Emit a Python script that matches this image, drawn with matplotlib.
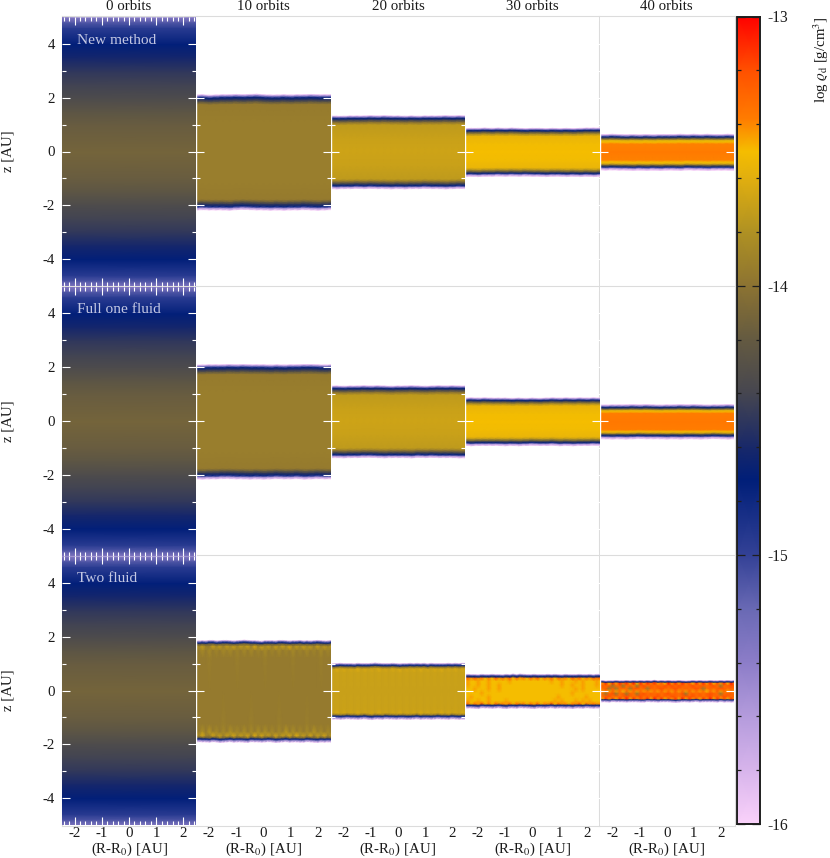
import matplotlib
matplotlib.use("Agg")
import matplotlib.pyplot as plt
from matplotlib.colors import LinearSegmentedColormap
from matplotlib.lines import Line2D
from matplotlib.ticker import FixedLocator
import numpy as np

plt.rcParams['font.family'] = ['Liberation Serif', 'DejaVu Serif']
plt.rcParams['mathtext.fontset'] = 'stix'

W, H = 830, 858
times = ['0 orbits', '10 orbits', '20 orbits', '30 orbits', '40 orbits']
methods = ['New method', 'Full one fluid', 'Two fluid']

# colour scale: log density -> colour
cmap_levels = [-16, -15.8, -15.6, -15.4, -15.2, -15, -14.72, -14.6, -14.4, -14.2, -14, -13.8, -13.6, -13.5, -13.38, -13.2, -13]
cmap_colors = ['#fad2fa', '#d7b4eb', '#b49bdc', '#8c7dc8', '#6969b4', '#324196', '#001e78', '#192869',
               '#464650', '#645a41', '#8c7332', '#af9123', '#e1af0f', '#f5be00', '#ff7d00', '#ff5000', '#ff0000']

# initial stratified disc (same in every row)
z0_levels = [5, 4.8, 4.6, 4, 3.5, 3, 2.5, 2, 1.5, 1, 0]
z0_values = [-15.35, -15.1, -14.95, -14.73, -14.62, -14.5, -14.42, -14.35, -14.25, -14.18, -14.12]

# smooth panels: depth under the disc surface [AU] and log density
depth_10 = [0, 0.05, 0.12, 0.2, 0.28, 0.37, 1.0, 2.1]
vals_10n = [-16, -15.5, -14.75, -14.5, -14.2, -13.95, -13.93, -13.93]
depth_20 = [0, 0.04, 0.1, 0.17, 0.25, 0.34, 0.8, 1.3]
vals_20n = [-16, -15.5, -14.75, -14.4, -14.0, -13.74, -13.70, -13.68]
depth_30 = [0, 0.04, 0.09, 0.15, 0.22, 0.3, 0.6, 0.88]
vals_30n = [-16, -15.5, -14.75, -14.3, -13.85, -13.56, -13.52, -13.5]
depth_40 = [0, 0.04, 0.1, 0.16, 0.23, 0.29, 0.36, 0.66]
vals_40n = [-16, -15.6, -14.75, -14.2, -13.6, -13.5, -13.39, -13.37]
depth_40f = [0, 0.04, 0.1, 0.16, 0.22, 0.27, 0.33, 0.63]
vals_40f = [-16, -15.6, -14.75, -14.2, -13.6, -13.48, -13.38, -13.36]

# surface height: base value and ripple digits (5 = base, one digit = 0.01 AU)
h_10n, top_10n, bot_10n = 2.14, '453455656754454556555', '645556434556565545654'
h_20n, top_20n, bot_20n = 1.35, '544555656554545556565', '565545455656554556545'
h_30n, top_30n, bot_30n = 0.89, '455656565455454545666', '656554545455655656565'
h_40n, top_40n, bot_40n = 0.66, '556545454555656565565', '454556565655645565556'
h_10f, top_10f, bot_10f = 2.12, '445556565554545566545', '565544556565455465455'
h_20f, top_20f, bot_20f = 1.33, '554556565455654565655', '656554456555645455566'
h_30f, top_30f, bot_30f = 0.88, '565655545454565656565', '465555656545546565545'
h_40f, top_40f, bot_40f = 0.63, '545556565455656545565', '556565455565655654565'

# two-fluid panels: rows are fraction of surface height; digits index the level list
levels_2f_10 = [-13.95, -13.92, -13.89, -13.85, -13.81, -13.77, -13.73, -13.69, -13.63, -13.56]
levels_2f_20 = [-13.7, -13.69, -13.68, -13.66, -13.64, -13.62, -13.6, -13.57, -13.54, -13.5]
levels_2f_30 = [-13.95, -13.62, -13.5, -13.44, -13.38, -13.32, -13.26, -13.2, -13.12, -13.05]

h_10t = 1.88
top_10t = '5454664566545676554355546654556454565446'
bot_10t = '6455645765465567455654576546556645675656'
fr_10t = [1, 0.975, 0.95, 0.925, 0.88, 0.8, 0.65, 0, -0.65, -0.8, -0.88, -0.925, -0.95, -0.975, -1]
rows_10t = [-16, -15.2, -14.75, -14.15,
            '5362073616372637182736172738162736172635',
            '2030302031302030302030203020302030203020',
            '0000100000001000000010000000100000001000',
            '0000000000000000000000000000000000000000',
            '1000000010000000100000001000000010000000',
            '3040503030413040304040303050403030513030',
            '7382083717482738092837182748193728073816',
            -14.15, -14.75, -15.2, -16]

h_20t = 1.03
top_20t = '5456555465556765556545565656465555656566'
bot_20t = '6556545565467556455655665465565455645656'
fr_20t = [1, 0.955, 0.91, 0.87, 0.8, 0.65, 0, -0.65, -0.8, -0.87, -0.91, -0.955, -1]
rows_20t = [-16, -15.2, -14.75, -14.1,
            '3051403150413051304150314051304150314031',
            '1010101010101010101010101010101010101010',
            '0000000000000000000000000000000000000000',
            '1010101010101010101010101010101010101010',
            '3150413150314051304150314051403150413050',
            -14.1, -14.75, -15.2, -16]

h_30t = 0.62
top_30t = '5655465565546575765565556565465556556466'
bot_30t = '6556745565467556455675565465565755645656'
fr_30t = [1, 0.93, 0.86, 0.76, 0.6, 0.36, 0.12, -0.12, -0.36, -0.6, -0.76, -0.86, -0.93, -1]
rows_30t = [-16, -15.2, -14.7,
            '4636352426343625342536243525342636243546',
            '2322322322222322222222222322322232322232',
            '2322322322322222222222222222322322322232',
            '2223222322322222222222222222222232322222',
            '2222232222222222222222222222222322222222',
            '2232222322222222222222222223222222232222',
            '2322322322223222222222222232322232323222',
            '4525362425343525342535243625342536243534',
            -14.7, -15.2, -16]

h_40t = 0.39
top_40t = '5645565565656565756565565456565565565656'
bot_40t = '6556455565556645565556765565465555646565'
fr_40t = [1, 0.92, 0.84, 0.74, 0.5, 0.25, 0, -0.25, -0.5, -0.74, -0.84, -0.92, -1]
rows_40t = [-16, -15.2, -14.7,
            '8382838483928384836293838472838382738293',
            '5656056056406756565767576567566567505676',
            '6560605650675606567656765656760565676565',
            '5353535253535353536353635363535253635353',
            '6506705606506756565675657056565676505665',
            '6567565676567565675657656767565675657656',
            '9283728392837482938273829283728392837282',
            -14.7, -15.2, -16]

# tick positions
x_major, x_minor = [-2, -1, 0, 1, 2], [v / 10 for v in range(-24, 25, 2) if v % 10]
z_major, z_minor = [-4, -2, 0, 2, 4], [-3, -1, 1, 3]
cb_major, cb_minor = [-16, -15, -14, -13], [-15.8, -15.6, -15.4, -15.2, -14.8, -14.6, -14.4, -14.2, -13.8, -13.6, -13.4, -13.2]

cmap = LinearSegmentedColormap.from_list('rho', [((l + 16) / 3, c) for l, c in zip(cmap_levels, cmap_colors)], N=512)

fig = plt.figure(figsize=(W / 100, H / 100), dpi=100, facecolor='white')
TXT = '#1a1a1a'
FS = 10.7
Z_NUDGE = -0.03  # gouraud rendering sits a little high


def axes_px(x0, y0, x1, y1, **kw):
    return fig.add_axes([x0 / W, 1 - y1 / H, (x1 - x0) / W, (y1 - y0) / H], **kw)


def mirror(depth, vals, h):
    fr = [1 - d / h for d in depth]
    return fr + [-f for f in fr[-2::-1]], list(vals) + list(vals[-2::-1])


def draw(ax, h, top, bot, fracs, rows, levels=None):
    n = len(top)
    xs = np.linspace(-2.5, 2.5, n)
    ht = h + (np.array([int(c) for c in top]) - 5) * 0.01
    hb = h + (np.array([int(c) for c in bot]) - 5) * 0.01
    Z = np.array([f * (ht if f >= 0 else hb) for f in fracs]) + Z_NUDGE
    V = np.array([[levels[int(c)] for c in r] if isinstance(r, str) else [r] * n for r in rows], dtype=float)
    X = np.tile(xs, (len(fracs), 1))
    ax.pcolormesh(X, Z, V, shading='gouraud', cmap=cmap, vmin=-16, vmax=-13, rasterized=True)


col_cx = [129.0, 263.4, 397.9, 532.3, 666.7]
row_cy = [151.5, 421.0, 690.5]
half_w, half_h = 67.2, 134.5

smooth = {
    (0, 1): (h_10n, top_10n, bot_10n, depth_10, vals_10n),
    (0, 2): (h_20n, top_20n, bot_20n, depth_20, vals_20n),
    (0, 3): (h_30n, top_30n, bot_30n, depth_30, vals_30n),
    (0, 4): (h_40n, top_40n, bot_40n, depth_40, vals_40n),
    (1, 1): (h_10f, top_10f, bot_10f, depth_10, vals_10n),
    (1, 2): (h_20f, top_20f, bot_20f, depth_20, vals_20n),
    (1, 3): (h_30f, top_30f, bot_30f, depth_30, vals_30n),
    (1, 4): (h_40f, top_40f, bot_40f, depth_40f, vals_40f),
}
textured = {
    (2, 1): (h_10t, top_10t, bot_10t, fr_10t, rows_10t, levels_2f_10),
    (2, 2): (h_20t, top_20t, bot_20t, fr_20t, rows_20t, levels_2f_20),
    (2, 3): (h_30t, top_30t, bot_30t, fr_30t, rows_30t, levels_2f_30),
    (2, 4): (h_40t, top_40t, bot_40t, fr_40t, rows_40t, levels_2f_30),
}

# light frame lines: under the first column, over the ticks of the empty panels
GRID = '#dcdcdc'
for y in [16, 285.5, 555, 825.5]:
    fig.add_artist(Line2D([62 / W, 197 / W], [1 - y / H] * 2, color=GRID, lw=0.8, zorder=0))
    fig.add_artist(Line2D([197 / W, 735 / W], [1 - y / H] * 2, color=GRID, lw=0.8, zorder=3))
fig.add_artist(Line2D([62 / W] * 2, [1 - 16 / H, 1 - 825.5 / H], color=GRID, lw=0.8, zorder=0))
fig.add_artist(Line2D([735 / W] * 2, [1 - 16 / H, 1 - 825.5 / H], color=GRID, lw=0.8, zorder=3))
fig.add_artist(Line2D([598.8 / W] * 2, [1 - 16 / H, 1 - 825.5 / H], color=GRID, lw=0.8, zorder=0))

for r, cy in enumerate(row_cy):
    for c, cx in enumerate(col_cx):
        ax = axes_px(cx - half_w, cy - half_h, cx + half_w, cy + half_h, zorder=2)
        ax.patch.set_visible(False)
        for s in ax.spines.values():
            s.set_visible(False)
        if c == 0:
            fr, vals = mirror([5 - z for z in z0_levels], z0_values, 5.0)
            draw(ax, 5.0, '55', '55', fr, vals)
        elif (r, c) in smooth:
            h, t, b, d, v = smooth[(r, c)]
            fr, vals = mirror(d, v, h)
            draw(ax, h, t, b, fr, vals)
        else:
            h, t, b, fr, rows, lv = textured[(r, c)]
            draw(ax, h, t, b, fr, rows, lv)
        ax.set_xlim(-half_w / 27.2, half_w / 27.2)
        ax.set_ylim(-half_h / 26.9, half_h / 26.9)
        if c > 0:
            ax.axvline(ax.get_xlim()[0], color='white', lw=1.0, zorder=3)
        ax.set_axisbelow(False)
        ax.xaxis.set_major_locator(FixedLocator(x_major))
        ax.xaxis.set_minor_locator(FixedLocator(x_minor))
        ax.yaxis.set_major_locator(FixedLocator(z_major))
        ax.yaxis.set_minor_locator(FixedLocator(z_minor))
        ax.tick_params(which='major', direction='in', length=6.0, width=0.8, color='white',
                       top=True, bottom=True, left=True, right=True,
                       labelbottom=(r == 2), labelleft=(c == 0), labelsize=FS, labelcolor=TXT, pad=1.5)
        ax.tick_params(which='minor', direction='in', length=3.2, width=0.8, color='white',
                       top=True, bottom=True, left=True, right=True)
        ax.tick_params(axis='y', which='major', pad=5)
        if r == 2:
            ax.set_xticklabels([str(v) for v in x_major])
        if c == 0:
            ax.set_yticklabels([str(v) for v in z_major])
            ax.text(76.5 / W, 1 - (cy - 111.5) / H, methods[r], transform=fig.transFigure, color='#c4c8e4',
                    fontsize=FS + 0.4, ha='left', va='center', zorder=5)
            fig.text(8 / W, 1 - cy / H, 'z [AU]', rotation=90, ha='center', va='center', fontsize=FS, color=TXT)
        if r == 0:
            fig.text(cx / W, 1 - 7 / H, times[c], ha='center', va='center', fontsize=FS, color=TXT)
        if r == 2:
            fig.text(cx / W, 1 - 849 / H, r'(R-R$_0$) [AU]', ha='center', va='center', fontsize=FS, color=TXT)

# colour bar
cax = axes_px(737, 16.5, 760, 824, zorder=2)
cb_vals = np.array([cmap_levels, cmap_levels], dtype=float).T
cax.pcolormesh([0, 1], cmap_levels, cb_vals, shading='gouraud', cmap=cmap, vmin=-16, vmax=-13)
cax.set_xlim(0, 1)
cax.set_ylim(-16, -13)
cax.set_xticks([])
for s in cax.spines.values():
    s.set_linewidth(1.4)
    s.set_color('#1e1e1e')
cax.yaxis.set_major_locator(FixedLocator(cb_major))
cax.yaxis.set_minor_locator(FixedLocator(cb_minor))
cax.tick_params(which='major', direction='in', length=6.0, width=0.9, color='#1e1e1e', left=True, right=True,
                labelleft=False, labelright=True, labelsize=FS + 0.5, labelcolor=TXT, pad=5.5)
cax.tick_params(which='minor', direction='in', length=3.0, width=0.9, color='#1e1e1e', left=True, right=True)
cax.set_yticklabels([str(v) for v in cb_major])
fig.text(821 / W, 1 - 60 / H, r'log $\varrho_{\rm d}$ [g/cm$^3$]', rotation=90, ha='center', va='center',
         fontsize=FS, color=TXT)

fig.savefig('out.png', dpi=100, facecolor='white')
